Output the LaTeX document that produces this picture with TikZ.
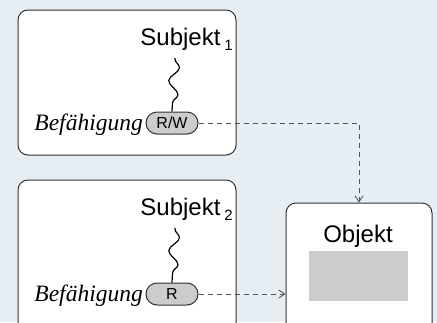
\documentclass[tikz,border=0pt]{standalone}
\usepackage{fontspec}
\setmainfont{Liberation Serif}
\setsansfont{Liberation Sans}
\usetikzlibrary{shapes.misc,arrows.meta,decorations.pathmorphing}
\definecolor{bg}{RGB}{230,238,244}
\definecolor{frame}{RGB}{50,50,50}
\definecolor{pillgray}{RGB}{204,204,204}
\definecolor{dashgray}{RGB}{85,85,85}
\tikzset{
  bigbox/.style={draw=frame,line width=1pt,fill=white,rounded corners=10pt,inner sep=0pt},
  pill/.style={rounded rectangle,draw=frame,line width=1pt,fill=pillgray,inner sep=0pt,minimum width=52pt,minimum height=22pt,font=\sffamily\fontsize{16}{16}\selectfont},
  captxt/.style={font=\itshape\fontsize{23.5}{23.5}\selectfont,anchor=base east,inner sep=0pt},
  subjtxt/.style={font=\sffamily\fontsize{24}{24}\selectfont,anchor=base east,inner sep=0pt},
  squig/.style={decorate,decoration={snake,segment length=27pt,amplitude=5pt,pre length=1pt},line width=1.2pt},
  dashlink/.style={draw=dashgray,line width=0.9pt,dash pattern=on 5pt off 4pt,-{Straight Barb[length=6pt,width=8pt,line width=0.9pt]}}
}
\begin{document}
\begin{tikzpicture}[x=1pt,y=-1pt]
\path[fill=bg] (0,0) rectangle (437,322);
\useasboundingbox (0,0) rectangle (437,322);
\begin{scope}
\clip (0,0) rectangle (437,322);
\node[bigbox,minimum width=218pt,minimum height=145pt] (s1box) at (127,82.5) {};
\node[bigbox,minimum width=218pt,minimum height=160pt] (s2box) at (127,260) {};
\node[bigbox,minimum width=146pt,minimum height=137pt] (objbox) at (359,271.5) {};
\end{scope}
\node[fill=pillgray,minimum width=99pt,minimum height=50pt,inner sep=0pt] (data) at (358.5,276) {};
\node[font=\sffamily\fontsize{24}{24}\selectfont,inner sep=0pt] (objtxt) at (358,236) {Objekt};
\node[subjtxt] (s1txt) at (233,45) {Subjekt\,\raisebox{-5pt}{\fontsize{15}{15}\selectfont 1}};
\node[subjtxt] (s2txt) at (233,215) {Subjekt\,\raisebox{-5pt}{\fontsize{15}{15}\selectfont 2}};
\node[pill] (rw) at (172,123) {R/W};
\node[pill] (r) at (172,294) {R};
\node[captxt] (b1) at (143,130) {Befähigung};
\node[captxt] (b2) at (143,301) {Befähigung};
\coordinate (q1) at (175,58);
\coordinate (q2) at (175,228);
\draw[squig] (q1) -- (rw.north);
\draw[squig] (q2) -- (r.north);
\draw[dashlink] (rw.east) -| (objbox.north);
\draw[dashlink] (r.east) -- (r.east -| objbox.west);
\end{tikzpicture}
\end{document}
